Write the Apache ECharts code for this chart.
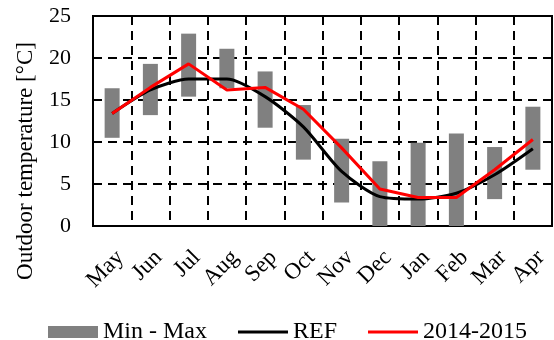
<!DOCTYPE html>
<html>
<head>
<meta charset="utf-8">
<script src="https://cdn.jsdelivr.net/npm/echarts@6/dist/echarts.min.js"></script>
<style>
  html, body { margin: 0; padding: 0; background: #fff; }
  #chart { width: 554px; height: 340px; }
</style>
</head>
<body>
<div id="chart"></div>
<script>
// Monthly outdoor temperature (°C)
const months = ['May', 'Jun', 'Jul', 'Aug', 'Sep', 'Oct', 'Nov', 'Dec', 'Jan', 'Feb', 'Mar', 'Apr'];
const minTemp = [10.5, 13.2, 15.4, 16.4, 11.7, 7.9, 2.8, 0, 0, 0, 3.2, 6.7];
const maxTemp = [16.4, 19.3, 22.9, 21.1, 18.4, 14.4, 10.4, 7.7, 9.9, 11.0, 9.4, 14.2];
const refTemp = [13.4, 16.2, 17.5, 17.5, 15.4, 11.8, 6.5, 3.5, 3.2, 3.9, 6.1, 9.2];
const season1415 = [13.4, 16.5, 19.3, 16.2, 16.5, 13.9, 9.3, 4.4, 3.4, 3.4, 6.7, 10.3];
const yTicks = [0, 5, 10, 15, 20, 25];

const FONT = '"Liberation Serif", "Times New Roman", serif';
const rangeSpan = maxTemp.map((v, i) => +(v - minTemp[i]).toFixed(2));

// thin horizontal stroke inside a 50x12 box, used as the legend line icon
const LINE_ICON = 'path://M0,0M50,12M0,4.5H50V7.5H0Z';

const chart = echarts.init(document.getElementById('chart'), null, { renderer: 'canvas' });
chart.setOption({
  animation: false,
  backgroundColor: '#fff',
  textStyle: { fontFamily: FONT, color: '#000' },
  grid: {
    left: 93, right: 2, top: 16, bottom: 114,
    show: true, borderColor: '#000', borderWidth: 2, backgroundColor: 'transparent'
  },
  legend: {
    left: 43, top: 315,
    itemWidth: 50, itemHeight: 12, itemGap: 31,
    textStyle: { fontFamily: FONT, fontSize: 24, color: '#000' },
    data: [
      { name: 'Min - Max', icon: 'rect' },
      { name: 'REF', icon: LINE_ICON },
      { name: '2014-2015', icon: LINE_ICON }
    ]
  },
  xAxis: {
    type: 'category',
    data: months,
    boundaryGap: true,
    axisLine: { show: false },
    axisTick: { show: false },
    axisLabel: {
      interval: 0, rotate: 45, margin: 20, verticalAlign: 'top',
      fontFamily: FONT, fontSize: 23, color: '#000'
    },
    splitLine: {
      show: true, interval: 0,
      lineStyle: { color: '#000', width: 2, type: [9, 6] }
    }
  },
  yAxis: {
    type: 'value',
    min: yTicks[0], max: yTicks[yTicks.length - 1], interval: 5,
    axisLine: { show: false },
    axisTick: { show: false },
    axisLabel: { margin: 22, fontFamily: FONT, fontSize: 22, color: '#000' },
    splitLine: { lineStyle: { color: '#000', width: 2, type: [9, 6] } }
  },
  graphic: [{
    type: 'text',
    x: 26, y: 161,
    rotation: Math.PI / 2,
    style: {
      text: 'Outdoor temperature [°C]',
      font: '23px ' + FONT,
      fill: '#000',
      align: 'center',
      verticalAlign: 'middle'
    }
  }],
  series: [
    {
      name: 'base', type: 'bar', stack: 'range', barWidth: 15,
      itemStyle: { color: 'transparent' },
      silent: true,
      data: minTemp
    },
    {
      name: 'Min - Max', type: 'bar', stack: 'range', barWidth: 15,
      itemStyle: { color: '#808080' },
      data: rangeSpan
    },
    {
      name: 'REF', type: 'line', symbol: 'none', smooth: 0.25,
      lineStyle: { color: '#000', width: 3 },
      itemStyle: { color: '#000' },
      data: refTemp
    },
    {
      name: '2014-2015', type: 'line', symbol: 'none',
      lineStyle: { color: '#ff0000', width: 3 },
      itemStyle: { color: '#ff0000' },
      data: season1415
    }
  ]
});
</script>
</body>
</html>
